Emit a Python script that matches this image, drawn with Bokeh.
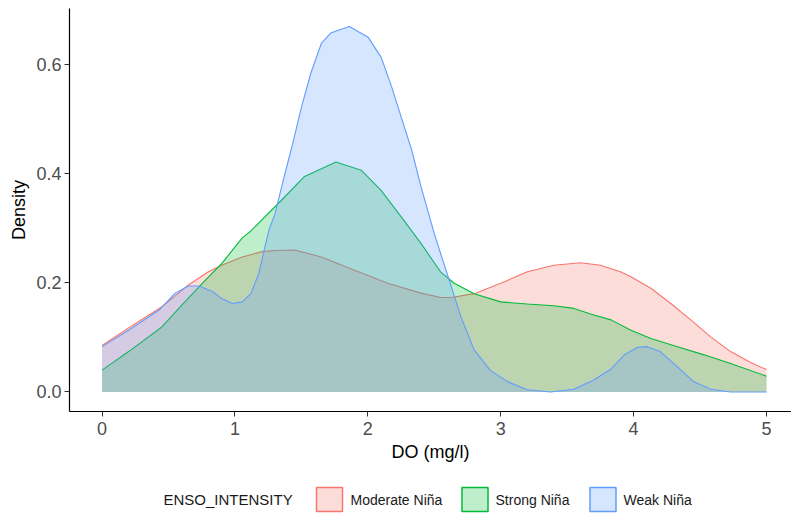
from bokeh.plotting import figure
from bokeh.layouts import column
from bokeh.models import Range1d, FixedTicker, PrintfTickFormatter, ColumnDataSource
from bokeh.core.properties import value
from bokeh.embed import file_html
from bokeh.resources import INLINE

# ---- data ----
moderate_x = [0.0, 0.2, 0.45, 0.65, 0.8, 0.9, 1.055, 1.205, 1.305, 1.45, 1.65, 1.9, 2.15,
              2.4, 2.55, 2.63, 2.8, 3.0, 3.2, 3.4, 3.6, 3.75, 3.9, 3.98, 4.13, 4.28, 4.43,
              4.58, 4.73, 4.88, 5.0]
moderate_y = [0.085, 0.117, 0.156, 0.196, 0.22, 0.232, 0.247, 0.257, 0.259, 0.26, 0.247,
              0.223, 0.199, 0.181, 0.173, 0.173, 0.18, 0.199, 0.22, 0.232, 0.2365, 0.232,
              0.22, 0.211, 0.19, 0.162, 0.132, 0.101, 0.074, 0.054, 0.041]

strong_x = [0.0, 0.2, 0.45, 0.6, 0.754, 0.9, 1.055, 1.12, 1.35, 1.52, 1.76, 1.95, 2.1,
            2.25, 2.4, 2.547, 2.65, 2.8, 3.0, 3.2, 3.4, 3.55, 3.7, 3.83, 3.98, 4.13, 4.33,
            4.53, 4.73, 5.0]
strong_y = [0.040, 0.074, 0.119, 0.159, 0.199, 0.235, 0.282, 0.295, 0.351, 0.394, 0.421,
            0.406, 0.369, 0.321, 0.272, 0.22, 0.199, 0.18, 0.165, 0.161, 0.158, 0.153,
            0.141, 0.132, 0.113, 0.098, 0.083, 0.068, 0.052, 0.029]

weak_x = [0.0, 0.2, 0.43, 0.55, 0.65, 0.73, 0.83, 0.9, 0.98, 1.055, 1.12, 1.18, 1.22,
          1.255, 1.3, 1.37, 1.435, 1.5, 1.57, 1.65, 1.72, 1.86, 2.0, 2.1, 2.18, 2.25,
          2.33, 2.4, 2.5, 2.547, 2.62, 2.7, 2.8, 2.92, 3.05, 3.2, 3.375, 3.55, 3.7, 3.83,
          3.93, 4.03, 4.1, 4.2, 4.33, 4.45, 4.58, 4.73, 5.0]
weak_y = [0.083, 0.113, 0.15, 0.181, 0.194, 0.194, 0.184, 0.171, 0.162, 0.165, 0.18,
          0.217, 0.26, 0.296, 0.325, 0.394, 0.455, 0.521, 0.583, 0.638, 0.657, 0.669,
          0.65, 0.613, 0.558, 0.504, 0.443, 0.376, 0.29, 0.254, 0.199, 0.138, 0.077,
          0.04, 0.019, 0.004, 0.0, 0.005, 0.022, 0.042, 0.068, 0.082, 0.083, 0.074,
          0.046, 0.019, 0.005, 0.0, 0.0]

series_names = ["Moderate Niña", "Strong Niña", "Weak Niña"]
series_colors = ["#F8766D", "#00BA38", "#619CFF"]
legend_title = "ENSO_INTENSITY"
x_ticks = [0, 1, 2, 3, 4, 5]
y_ticks = [0.0, 0.2, 0.4, 0.6]
x_label = "DO (mg/l)"
y_label = "Density"

FONT = "Liberation Sans"
LEFT = 69

# ---- main panel ----
p = figure(width=791, height=470, output_backend="svg", toolbar_location=None,
           x_range=Range1d(-0.245, 5.188), y_range=Range1d(-0.0357, 0.702),
           min_border_left=LEFT, min_border_right=0, min_border_top=8,
           min_border_bottom=59)
p.outline_line_color = None
p.xgrid.grid_line_color = None
p.ygrid.grid_line_color = None

series = [(moderate_x, moderate_y), (strong_x, strong_y), (weak_x, weak_y)]
for (xs, ys), col in zip(series, series_colors):
    src = ColumnDataSource(dict(x=xs, y=ys))
    p.varea(x="x", y1=0, y2="y", source=src, fill_color=col, fill_alpha=0.25)
    p.line(x="x", y="y", source=src, line_color=col, line_width=1.1)

for ax in (p.xaxis[0], p.yaxis[0]):
    ax.axis_line_color = "black"
    ax.axis_line_width = 1.2
    ax.major_tick_line_color = "#333333"
    ax.major_tick_out = 5
    ax.major_tick_in = 0
    ax.minor_tick_line_color = None
    ax.major_label_text_font = FONT
    ax.major_label_text_font_size = "18px"
    ax.major_label_text_color = "#4D4D4D"
    ax.axis_label_text_font = FONT
    ax.axis_label_text_font_size = "18px"
    ax.axis_label_text_font_style = "normal"
    ax.axis_label_text_color = "black"

p.xaxis[0].ticker = FixedTicker(ticks=x_ticks)
p.xaxis[0].formatter = PrintfTickFormatter(format="%d")
p.xaxis[0].axis_label = x_label
p.xaxis[0].major_label_standoff = 5
p.xaxis[0].axis_label_standoff = 4
p.yaxis[0].ticker = FixedTicker(ticks=y_ticks)
p.yaxis[0].formatter = PrintfTickFormatter(format="%.1f")
p.yaxis[0].axis_label = y_label
p.yaxis[0].major_label_standoff = 3
p.yaxis[0].axis_label_standoff = 4

# ---- legend strip (page-pixel coordinates; frame spans LEFT..791) ----
LH = 44
leg = figure(width=791, height=LH, output_backend="svg", toolbar_location=None,
             x_range=Range1d(LEFT, 791), y_range=Range1d(0, LH),
             x_axis_location=None, y_axis_location=None,
             min_border_left=LEFT, min_border_right=0, min_border_top=0,
             min_border_bottom=0)
leg.outline_line_color = None
leg.xgrid.grid_line_color = None
leg.ygrid.grid_line_color = None

row_y = 15
title_x = 163
key_centers = [329, 474.5, 602.5]
label_x = [350, 495, 623]

leg.text(x=[title_x], y=[row_y], text=[legend_title], text_font=value(FONT),
         text_font_size="15px", text_color="#1a1a1a", text_baseline="middle",
         text_align="left")
leg.rect(x=key_centers, y=[row_y] * 3, width=26, height=24, fill_color=series_colors,
         fill_alpha=0.25, line_color=series_colors, line_width=1.5)
leg.text(x=label_x, y=[row_y] * 3, text=series_names, text_font=value(FONT),
         text_font_size="14px", text_color="#1a1a1a", text_baseline="middle",
         text_align="left")

layout = column(p, leg, spacing=0)
open("out.html", "w").write(file_html(layout, INLINE))
